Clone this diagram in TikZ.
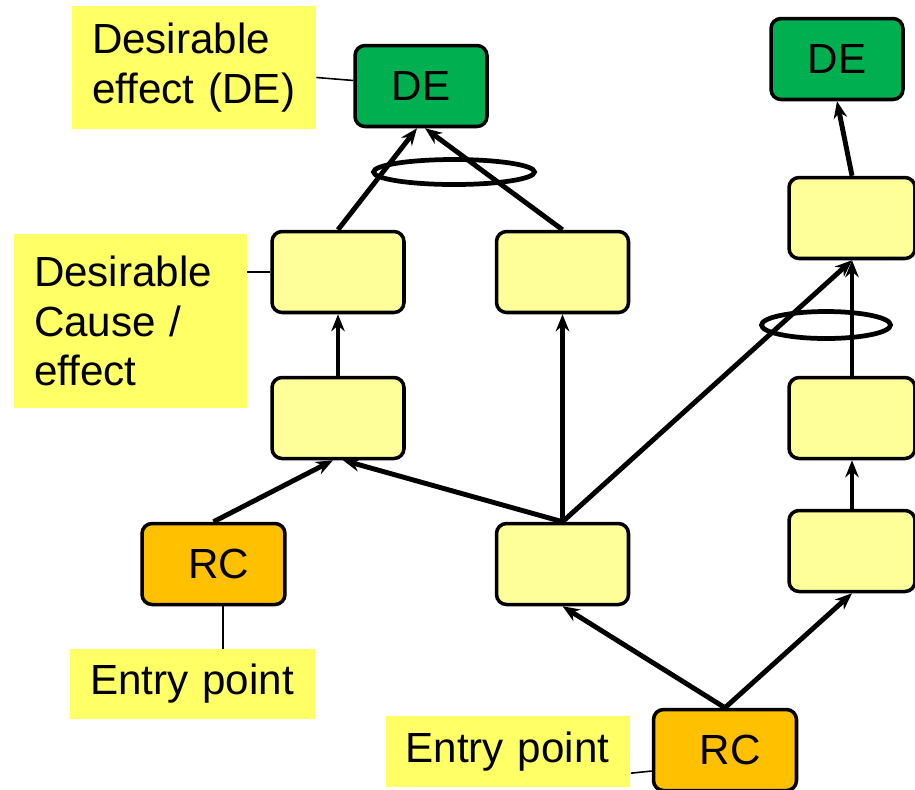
\documentclass[tikz,border=0pt]{standalone}
\usepackage{fontspec}
\setmainfont{Liberation Sans}
\setsansfont{Liberation Sans}
\usetikzlibrary{arrows.meta,positioning}
\definecolor{degreen}{HTML}{00B050}
\definecolor{rcorange}{HTML}{FFC000}
\definecolor{boxyellow}{HTML}{FFFF99}
\definecolor{noteyellow}{HTML}{FFFF66}

\begin{document}
\begin{tikzpicture}
	[font=\sffamily\fontsize{24}{28}\selectfont, x=0.02cm, y=-0.02cm,
	effect/.style	= {rectangle, rounded corners=0.2cm, draw, line width=2pt, fill=degreen, inner sep=0pt, minimum width=2.64cm, minimum height=1.62cm},
	cause/.style	= {effect, fill=boxyellow},
	root/.style		= {effect, fill=rcorange, minimum width=2.86cm},
	note/.style		= {rectangle, fill=noteyellow, align=left, inner xsep=0.4cm, inner ysep=0pt},
	paths/.style	= {-{Stealth[length=0.34cm, width=0.27cm]}, line width=2.8pt},
	ring/.style		= {line width=2.7pt},
	link/.style		= {line width=0.9pt}]
	
	\useasboundingbox (0, 0) rectangle (915, 789);
	
	\node at (194, 67.5)	[note, text width=4.08cm, minimum height=2.46cm]	(nDE)	{Desirable\\effect (DE)};
	\node at (130.5, 321)	[note, text width=3.86cm, minimum height=3.48cm]	(nCE)	{Desirable\\Cause /\\effect};
	\node at (192.5, 684)	[note, text width=4.1cm, minimum height=1.4cm]	(nEP1)	{Entry point};
	\node at (508, 751.5)	[note, text width=4.1cm, minimum height=1.42cm]	(nEP2)	{Entry point};
	
	\node at (421, 86)		[effect]	(de1)	{DE};
	\node at (837, 59)		[effect]	(de2)	{DE};
	
	\node at (338, 272)		[cause]		(c1)	{};
	\node at (562.5, 272)	[cause]		(c2)	{};
	\node at (852, 218)		[cause, minimum width=2.52cm]	(c3)	{};
	\node at (338, 418)		[cause]		(c4)	{};
	\node at (852, 418)		[cause, minimum width=2.52cm]	(c5)	{};
	\node at (562.5, 564)	[cause]		(c6)	{};
	\node at (852, 551)		[cause, minimum width=2.52cm]	(c7)	{};
	
	\node at (213.5, 564)	[root]		(rc1)	{\hspace*{0.2cm}RC};
	\node at (725, 750)		[root]		(rc2)	{\hspace*{0.2cm}RC};
	
	\draw [paths] (c1.north) -- ([xshift=-0.08cm]de1.south);
	\draw [paths] (c2.north) -- ([xshift=0.08cm]de1.south);
	\draw [paths] (c4.north) -- (c1.south);
	\draw [paths] (rc1.north) -- ([xshift=-0.1cm]c4.south);
	\draw [paths] (c6.north) -- ([xshift=0.1cm]c4.south);
	\draw [paths] (c6.north) -- (c2.south);
	\draw [paths] (c6.north) -- (c3.south);
	\draw [paths] (c5.north) -- (c3.south);
	\draw [paths] (c7.north) -- (c5.south);
	\draw [paths] (c3.north) -- (de2.south);
	\draw [paths] (rc2.north) -- (c6.south);
	\draw [paths] (rc2.north) -- (c7.south);
	
	\draw [ring] (454, 172) ellipse [x radius=1.61cm, y radius=0.25cm];
	\draw [ring] (826, 325) ellipse [x radius=1.29cm, y radius=0.27cm];
	
	\draw [link] (nDE) -- (de1);
	\draw [link] (c1.west) -- (c1.west -| nCE.east);
	\draw [link] (rc1.-77) -- (rc1.-77 |- nEP1.north);
	\draw [link] (nEP2.-10) -- (rc2.196);
	\end{tikzpicture}
\end{document}
